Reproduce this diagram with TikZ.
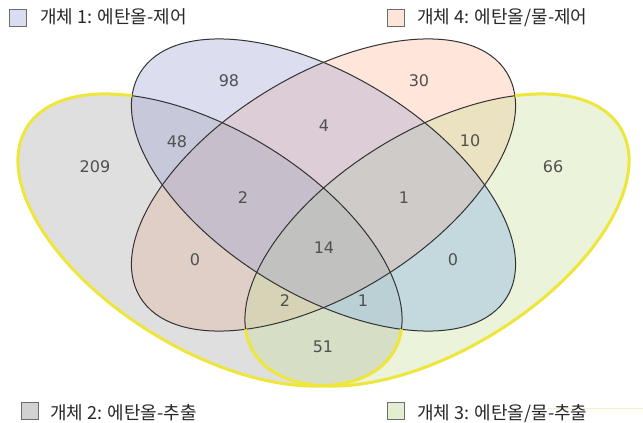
\documentclass[tikz,border=0pt]{standalone}
\usepackage{fontspec}
\newfontfamily\krfont{Noto Sans CJK KR}
\newfontfamily\numfont{DejaVu Sans}
\definecolor{blueF}{RGB}{155,161,212}
\definecolor{orangeF}{RGB}{255,181,149}
\definecolor{grayF}{RGB}{166,166,164}
\definecolor{greenF}{RGB}{198,221,152}
\definecolor{cyanT}{RGB}{175,225,235}
\definecolor{lineC}{RGB}{50,50,50}
\definecolor{yelC}{RGB}{238,230,58}
\definecolor{numC}{RGB}{80,80,80}
\definecolor{legC}{RGB}{40,40,40}
\definecolor{boxA}{RGB}{218,221,240}
\definecolor{boxB}{RGB}{210,210,210}
\definecolor{boxC}{RGB}{226,238,207}
\definecolor{boxD}{RGB}{255,228,217}
\definecolor{strayC}{RGB}{246,242,190}
\begin{document}
\begin{tikzpicture}[x=1pt,y=-1pt,
  eG/.style={shift={(210,240)},rotate=-31.5},
  eR/.style={shift={(437,240)},rotate=31.5},
  eB/.style={shift={(323.5,185)},rotate=-31.5},
  eO/.style={shift={(323.5,185)},rotate=31.5},
  vfill/.style={fill opacity=0.35},
  thinline/.style={draw=lineC,line width=1pt},
  yelline/.style={draw=yelC,line width=3pt},
  num/.style={font=\numfont\fontsize{16}{19}\selectfont,text=numC,inner sep=0pt},
  leg/.style={font=\krfont\fontsize{18}{22}\selectfont,text=legC,inner sep=0pt,anchor=base west},
  legbox/.style={draw=gray!85!black,line width=0.8pt}]
\fill[white] (0,0) rectangle (643,423);
\useasboundingbox (0,0) rectangle (643,423);
% fills
\fill[orangeF,vfill,eO] (0,0) ellipse [x radius=215, y radius=109.5];
\fill[grayF,vfill,eG] (0,0) ellipse [x radius=215, y radius=109.5];
\fill[greenF,vfill,eR] (0,0) ellipse [x radius=215, y radius=109.5];
\fill[blueF,vfill,eB] (0,0) ellipse [x radius=215, y radius=109.5];
% cyan tint where set 1 and set 3 overlap outside set 4
\begin{scope}
\clip[eB] (0,0) ellipse [x radius=215, y radius=109.5];
\clip[eR] (0,0) ellipse [x radius=215, y radius=109.5];
\begin{scope}[even odd rule]
\clip[eO] (-2000,-2000) rectangle (2000,2000) (0,0) ellipse [x radius=215, y radius=109.5];
\fill[cyanT,fill opacity=0.35] (0,0) rectangle (643,423);
\end{scope}
\end{scope}
% thin outlines
\draw[thinline,eG] (0,0) ellipse [x radius=215, y radius=109.5];
\draw[thinline,eR] (0,0) ellipse [x radius=215, y radius=109.5];
\draw[thinline,eB] (0,0) ellipse [x radius=215, y radius=109.5];
\draw[thinline,eO] (0,0) ellipse [x radius=215, y radius=109.5];
% yellow outlines outside the inner ellipses
\begin{scope}[even odd rule]
\clip[eB] (-2000,-2000) rectangle (2000,2000) (0,0) ellipse [x radius=215, y radius=109.5];
\clip[eO] (-2000,-2000) rectangle (2000,2000) (0,0) ellipse [x radius=215, y radius=109.5];
\draw[yelline,eG] (0,0) ellipse [x radius=215, y radius=109.5];
\draw[yelline,eR] (0,0) ellipse [x radius=215, y radius=109.5];
\end{scope}
% numbers
\node[num] (n209) at (95,167) {209};
\node[num] (n98) at (229,81) {98};
\node[num] (n30) at (419,81) {30};
\node[num] (n66) at (553,167) {66};
\node[num] (n48) at (177,142) {48};
\node[num] (n4) at (324,126) {4};
\node[num] (n10) at (470,141) {10};
\node[num] (n2a) at (243,198) {2};
\node[num] (n1a) at (404,198) {1};
\node[num] (n0a) at (195,260) {0};
\node[num] (n0b) at (453,260) {0};
\node[num] (n14) at (324,248) {14};
\node[num] (n2b) at (285,301) {2};
\node[num] (n1b) at (363,301) {1};
\node[num] (n51) at (323,347) {51};
% legend
\draw[strayC,line width=1pt] (548,408) -- (643,408);
\filldraw[legbox,fill=boxA] (9.5,9.5) rectangle (26.5,26.5);
\node[leg] (l1) at (40,23.3) {개체 1: 에탄올-제어};
\filldraw[legbox,fill=boxD] (387.5,9) rectangle (404.5,26);
\node[leg] (l4) at (417,23.3) {개체 4: 에탄올/물-제어};
\filldraw[legbox,fill=boxB] (21,402.5) rectangle (38,419.5);
\node[leg] (l2) at (50,419.3) {개체 2: 에탄올-추출};
\filldraw[legbox,fill=boxC] (387.5,402.5) rectangle (404.5,419.5);
\node[leg] (l3) at (417,419.3) {개체 3: 에탄올/물-추출};
\end{tikzpicture}
\end{document}
